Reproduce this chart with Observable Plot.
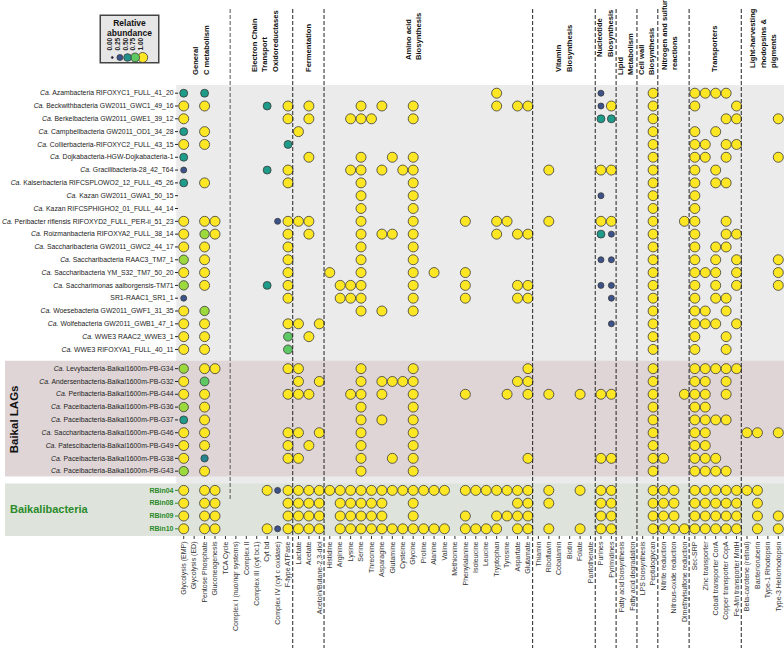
<!DOCTYPE html>
<html><head><meta charset="utf-8">
<script src="https://cdn.jsdelivr.net/npm/d3@7"></script>
<script src="https://cdn.jsdelivr.net/npm/@observablehq/plot@0.6"></script>
<style>
body{margin:0;background:#fff;font-family:"Liberation Sans",Arial,sans-serif;}
#wrap{position:relative;width:784px;height:648px;overflow:hidden;}
#wrap > svg{position:absolute;left:0;top:0;}
#legend{position:absolute;left:99px;top:14px;}
</style></head><body><div id="wrap"><div id="legend"></div></div>
<script>
// ---------- data ----------
const columns = ["Glycolysis (EMP)","Glycolysis (ED)","Pentose Phosphate","Gluconeogenesis","TCA Cycle",
"Complex I (nuo/nqr systems)","Complex II","Complex III (cyt bc1)","Cyt bd","Complex IV (cyt c oxidase)","F-type ATPase",
"Lactate","Acetate","Acetoin/Butane-2,3-diol",
"Histidine","Arginine","Lysine","Serine","Threonine","Asparagine","Glutamine","Cysteine","Glycine","Proline","Alanine","Valine","Methionine","Phenylalanine","Isoleucine","Leucine","Tryptophan","Tyrosine","Aspartate","Glutamate",
"Thiamin","Riboflavin","Cobalamin","Biotin","Folate","Pantothenate",
"Purines","Pyrimidines",
"Fatty acid biosynthesis","Fatty acid degradation",
"LPS biosynthesis","Peptidoglycan",
"Nitrite reduction","Nitrous-oxide reduction","Dimethylsulfone reduction",
"Sec-SRP","Zinc transporter","Cobalt transporter CorA","Copper transporter CopA","Fe-Mn transporter MntH",
"Beta-carotene (retinal)","Bacterioruberin","Type-1 Rhodopsin","Type-3 Heliorhodopsin"];

const headerLines = [["General","C metabolism"],["Electron Chain","Transport","Oxidoreductases"],["Fermentation"],
["Amino acid","Biosynthesis"],["Vitamin","Biosynthesis"],["Nucleotide","Biosynthesis"],["Lipid","Metabolism"],
["Cell wall","Biosynthesis"],["Nitrogen and sulfur","reactions"],["Transporters"],["Light-harvesting","rhodopsins &","pigments"]];
const headerSizes = [5,6,3,20,6,2,2,2,3,5,4];

const rowsPublic = ["Ca. Azambacteria RIFOXYC1_FULL_41_20","Ca. Beckwithbacteria GW2011_GWC1_49_16","Ca. Berkelbacteria GW2011_GWE1_39_12",
"Ca. Campbellbacteria GW2011_OD1_34_28","Ca. Collierbacteria-RIFOXYC2_FULL_43_15","Ca. Dojkabacteria-HGW-Dojkabacteria-1",
"Ca. Gracilibacteria-28_42_T64","Ca. Kaiserbacteria RIFCSPLOWO2_12_FULL_45_26","Ca. Kazan GW2011_GWA1_50_15",
"Ca. Kazan RIFCSPHIGHO2_01_FULL_44_14","Ca. Peribacter riflensis RIFOXYD2_FULL_PER-ii_51_23","Ca. Roizmanbacteria RIFOXYA2_FULL_38_14",
"Ca. Saccharibacteria GW2011_GWC2_44_17","Ca. Saccharibacteria RAAC3_TM7_1","Ca. Saccharibacteria YM_S32_TM7_50_20",
"Ca. Saccharimonas aalborgensis-TM71","SR1-RAAC1_SR1_1","Ca. Woesebacteria GW2011_GWF1_31_35","Ca. Wolfebacteria GW2011_GWB1_47_1",
"Ca. WWE3 RAAC2_WWE3_1","Ca. WWE3 RIFOXYA1_FULL_40_11"];
const rowsBaikalLAGs = ["Ca. Levybacteria-Baikal1600m-PB-G34","Ca. Andersenbacteria-Baikal1600m-PB-G32","Ca. Peribacteria-Baikal1600m-PB-G44",
"Ca. Paceibacteria-Baikal1600m-PB-G36","Ca. Paceibacteria-Baikal1600m-PB-G37","Ca. Saccharibacteria-Baikal1600m-PB-G46",
"Ca. Patescibacteria-Baikal1600m-PB-G49","Ca. Paceibacteria-Baikal1600m-PB-G38","Ca. Paceibacteria-Baikal1600m-PB-G43"];
const rowsBaikalibacteria = ["RBin04","RBin08","RBin09","RBin10"];

// abundance codes: Y=1.00, L=0.85, G=0.75, T=0.55, t=0.45, N=0.25, .=absent
const codeValue = {Y:1, L:0.85, G:0.75, T:0.55, t:0.45, N:0.25};
const profilesPublic = [
"T.T..|......|...|................Y...|......|N.|..|.Y|...|YYYY.|....",
"Y.Y..|...T.Y|.Y.|...Y.Y..Y.......Y.YY|......|NY|..|.Y|...|Y...Y|....",
"Y....|.....Y|.Y.|..YYY...Y...........|......|TT|..|.Y|...|...YY|...Y",
"T.Y..|......|Y..|....................|......|..|..|.Y|...|Y.Y..|....",
"Y.Y..|.....T|...|....................|......|..|..|.Y|...|YY.YY|....",
"T....|......|.Y.|...Y..Y.Y...........|......|..|..|.Y|...|YY.Y.|...Y",
"N....|...T.Y|...|..YY.Y.YY...........|.Y....|YY|..|.Y|...|Y.Y..|....",
"T.Y..|.....Y|...|...Y....Y...........|......|..|..|.Y|...|Y.YY.|....",
".....|......|...|...Y....Y...........|......|N.|..|.Y|...|Y....|....",
".....|......|...|...Y....Y...........|......|..|..|.Y|...|Y....|....",
"Y.YY.|....NY|YY.|...Y....Y....Y..YY..|.Y....|YY|..|.Y|..Y|Y..Y.|....",
"Y.LY.|.....Y|.Y.|...Y.YY.Y.......Y.YY|......|TN|..|.Y|...|Y..YY|....",
"Y.Y..|.....Y|...|...Y....Y...........|......|..|..|.Y|...|Y.YY.|....",
"L.Y..|.....Y|...|...Y....Y...........|......|NN|..|.Y|...|Y.Y.Y|...Y",
"Y.Y..|.....Y|...|Y..Y....Y.Y..Y......|......|..|..|.Y|...|YYY.Y|...Y",
"L.Y..|...T.Y|...|.YYY....Y....Y....YY|......|NN|..|.Y|...|Y.Y.Y|...Y",
"N....|.....Y|...|.YYY....Y....Y....YY|......|.N|..|.Y|...|Y.YY.|....",
"Y.L..|......|...|...Y.Y..Y...........|......|..|..|.Y|...|YY.Y.|....",
"Y.Y..|.....Y|Y.Y|....................|......|.N|..|.Y|...|YYY.Y|....",
"Y.Y..|.....G|.Y.|....................|......|..|..|.Y|...|Y..Y.|....",
"Y.Y..|.....G|...|....................|......|..|..|.Y|...|Y..Y.|...."];
const profilesBaikalLAGs = [
"L.YY.|.....Y|Y..|...Y....Y..........Y|......|..|..|.Y|...|YYYYY|....",
"Y.G..|......|Y.Y|...Y.YYYY.........YY|......|..|..|.Y|...|YY.Y.|....",
"Y.Y..|.....Y|YY.|..YY.Y..Y....Y...Y.Y|.Y..Y.|YY|..|.Y|..Y|YY.Y.|....",
"L.Y..|......|...|...Y....Y...........|......|..|..|.Y|...|YY...|....",
"T.Y..|......|...|...Y.Y..Y...........|......|..|..|.Y|...|YYYY.|....",
"Y.Y..|.....Y|Y.Y|...Y....Y...........|......|..|..|.Y|...|YY...|YY.Y",
"Y.Y..|.....Y|.Y.|...Y....Y...........|......|..|..|.Y|...|YY...|....",
"Y.t..|.....Y|Y..|...Y..Y.Y..........Y|......|YY|..|.Y|Y..|YYY..|....",
"L.Y..|......|...|...Y....Y...........|......|..|..|.Y|...|YYYY.|...."];
const profilesBaikalibacteria = [
"Y.YY.|...YNY|YYY|YYYYYYYYYYYY.YYYYYYY|.Y..Y.|YY|..|.Y|YY.|YYYYY|YY..",
"Y.YY.|.....Y|YYY|.YYYYY..Y.........YY|.Y....|YY|..|.Y|YY.|YYYYY|.Y..",
"Y.YY.|.....Y|YYY|.YYYYY..Y....Y..YYYY|......|YY|..|.Y|YY.|YYYYY|.Y.Y",
"Y.YY.|...YNY|YYY|.YYYYYYYYYYY.YYYY.YY|.Y..Y.|YY|..|.Y|YYY|YYYYY|.Y.Y"];
const legendValues = [0, 0.25, 0.5, 0.75, 1];

// ---------- build table ----------
const groups = [
  {name:"public", rows:rowsPublic, profiles:profilesPublic},
  {name:"Baikal LAGs", rows:rowsBaikalLAGs, profiles:profilesBaikalLAGs},
  {name:"Baikalibacteria", rows:rowsBaikalibacteria, profiles:profilesBaikalibacteria}
];
const cells = [], rowTicks = [];
let start = 0;
for (const g of groups) {
  g.start = start;
  g.rows.forEach((name, i) => {
    const pos = start + i;
    rowTicks.push({pos, name, group: g.name});
    const codes = g.profiles[i].replace(/\|/g, "");
    [...codes].forEach((c, j) => {
      if (c !== ".") cells.push({row:name, pos, column: columns[j], value: codeValue[c]});
    });
  });
  g.end = start + g.rows.length - 1;
  start += g.rows.length + 0.5;
}
const nameByPos = new Map(rowTicks.map(d => [d.pos, d.name]));
const yMin = -0.6, yMax = groups[2].end + 0.6;

const font = '"Liberation Sans", Arial, Helvetica, sans-serif';
const rScale = {type:"sqrt", domain:[0,1], range:[1,5]};
const colorScale = {type:"linear", scheme:"viridis", domain:[0,1]};

const plot = Plot.plot({
  width:784, height:648,
  marginTop:85, marginBottom:112, marginLeft:178, marginRight:1,
  style:{fontFamily:font, background:"transparent", overflow:"visible"},
  x:{type:"point", domain:columns, padding:0.5, round:false, axis:null},
  y:{domain:[yMin, yMax], reverse:true, axis:null},
  r:rScale,
  color:colorScale,
  marks:[
    Plot.axisX({anchor:"bottom", tickRotate:-90, tickSize:3, tickPadding:2, fontSize:7, color:"#333", label:null}),
    Plot.axisY({anchor:"left", ticks:rowTicks.filter(d=>d.group!=="Baikalibacteria").map(d=>d.pos),
      tickFormat:d=>nameByPos.get(d), tickSize:3, tickPadding:2, fontSize:6.85, color:"#222", label:null}),
    Plot.axisY({anchor:"left", ticks:rowTicks.filter(d=>d.group==="Baikalibacteria").map(d=>d.pos),
      tickFormat:d=>nameByPos.get(d), tickSize:3, tickPadding:2, fontSize:7, fontWeight:"bold", color:"#2a8a2a", label:null}),
    Plot.dot(cells, {x:"column", y:"pos", r:"value", fill:"value", stroke:"#3a3a3a", strokeWidth:0.8})
  ]
});
document.getElementById("wrap").prepend(plot);

// ---------- decorations positioned via the plot's scales ----------
const svg = d3.select(plot);
const xS = plot.scale("x"), yS = plot.scale("y");
const left0 = xS.apply(columns[0]) - 7;
const bg = svg.insert("g", "g");
const g2 = groups[1], g3 = groups[2];
bg.append("rect").attr("x", left0).attr("width", 784 - left0)
  .attr("y", yS.apply(yMin)).attr("height", yS.apply(yMax) - yS.apply(yMin)).attr("fill", "#ebebeb");
bg.append("rect").attr("x", 5).attr("width", 779)
  .attr("y", yS.apply(g2.start - 0.58)).attr("height", yS.apply(g2.end + 0.45) - yS.apply(g2.start - 0.58)).attr("fill", "#dfd5d6");
bg.append("rect").attr("x", 5).attr("width", 779)
  .attr("y", yS.apply(g3.start - 0.5)).attr("height", yS.apply(yMax) - yS.apply(g3.start - 0.5)).attr("fill", "#dee4db");

// dashed separators between header groups
const over = svg.append("g").attr("text-anchor", "start");
let ci = 0;
headerSizes.forEach((n, k) => {
  ci += n;
  if (k === headerSizes.length - 1) return;
  const x = (xS.apply(columns[ci - 1]) + xS.apply(columns[ci])) / 2;
  over.append("line").attr("x1", x).attr("x2", x).attr("y1", 9)
    .attr("y2", k === 0 ? 500 : 648)
    .attr("stroke", k === 0 ? "#555" : "#222").attr("stroke-width", 1).attr("stroke-dasharray", "4,2");
});

// header labels
const headerDx = [-3, 3, 0, -15, 0, -1, -1, -1, -4, -1, 1];
const headerBottom = [75, 72, 72, 60, 72, 57, 75, 75, 70, 72, 68];
const hg = over.append("g").attr("font-family", font).attr("font-size", 7.6).attr("font-weight", "bold").attr("fill", "#111");
ci = 0;
headerLines.forEach((lines, k) => {
  const a = xS.apply(columns[ci]), b = xS.apply(columns[ci + headerSizes[k] - 1]);
  ci += headerSizes[k];
  const cx = (a + b) / 2 + headerDx[k];
  lines.forEach((t, i) => {
    const x = cx + (i - (lines.length - 1) / 2) * 10.5;
    hg.append("text").attr("transform", `translate(${x},${headerBottom[k]}) rotate(-90)`)
      .attr("dy", "0.35em").attr("text-anchor", "start").text(t);
  });
});

// group labels
over.append("text").attr("transform", `translate(18,${yS.apply((g2.start + g2.end) / 2)}) rotate(-90)`)
  .attr("text-anchor", "middle").attr("font-family", font).attr("font-weight", "bold").attr("font-size", 11.5)
  .attr("fill", "#111").text("Baikal LAGs");
over.append("text").attr("x", 10).attr("y", yS.apply((g3.start + g3.end) / 2)).attr("dy", "0.35em")
  .attr("text-anchor", "start").attr("font-family", font).attr("font-weight", "bold").attr("font-size", 11)
  .attr("fill", "#2a8a2a").text("Baikalibacteria");

// italic "Ca." prefixes
svg.selectAll('g[aria-label="y-axis tick label"] text').each(function() {
  const t = this.textContent;
  if (t.startsWith("Ca. ")) {
    const s = d3.select(this); s.text(null);
    s.append("tspan").attr("font-style", "italic").text("Ca.");
    s.append("tspan").text(" " + t.slice(4));
  }
});

// ---------- legend ----------
const legend = Plot.plot({
  width:60, height:49, margin:0,
  style:{fontFamily:font, background:"transparent", overflow:"visible"},
  x:{type:"point", domain:legendValues, range:[9,47], round:false, axis:null},
  r:rScale, color:colorScale,
  marks:[
    Plot.frame({fill:"#e6e6e6", stroke:"#444", strokeWidth:1.5, inset:0.75}),
    Plot.text(["Relative\nabundance"], {frameAnchor:"top", dy:4, fontSize:8.5, fontWeight:"bold", lineHeight:1.2, fill:"#111"}),
    Plot.text(legendValues, {x:d=>d, text:d=>d.toFixed(2), rotate:-90, textAnchor:"start", frameAnchor:"bottom", dy:-13, fontSize:6.5, fontWeight:"bold", fill:"#222"}),
    Plot.dot(legendValues, {x:d=>d, r:d=>d, fill:d=>d, frameAnchor:"bottom", dy:-6, stroke:"#3a3a3a", strokeWidth:0.8})
  ]
});
document.getElementById("legend").append(legend);
</script>
</body></html>
